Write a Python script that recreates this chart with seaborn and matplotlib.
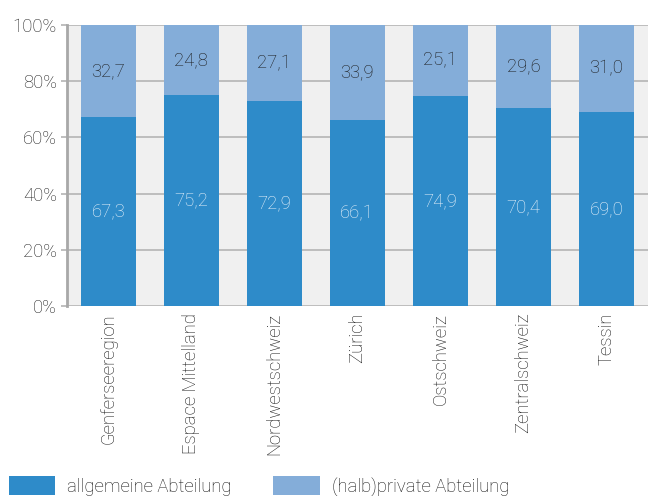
import matplotlib
matplotlib.use("Agg")
import matplotlib.pyplot as plt
import seaborn as sns
import pandas as pd
from matplotlib.patches import Patch

regions = ["Genferseeregion", "Espace Mittelland", "Nordwestschweiz", "Zürich",
           "Ostschweiz", "Zentralschweiz", "Tessin"]
allgemein = [67.3, 75.2, 72.9, 66.1, 74.9, 70.4, 69.0]
privat = [32.7, 24.8, 27.1, 33.9, 25.1, 29.6, 31.0]
series_names = ["allgemeine Abteilung", "(halb)private Abteilung"]
yticks = [0, 20, 40, 60, 80, 100]

dark = "#2e8bc9"
light = "#84add9"
FS = 13.3

sns.set_theme(style="white")
plt.rcParams["font.family"] = ["Roboto", "DejaVu Sans"]
plt.rcParams["font.weight"] = "light"

df = pd.DataFrame({"region": regions, "allg": allgemein, "priv": privat})
df["total"] = df["allg"] + df["priv"]

fig = plt.figure(figsize=(6.48, 4.96), dpi=100)
ax = fig.add_axes([0.103, 0.383, 0.897, 0.5665])
ax.set_facecolor("#f0f0f0")

sns.barplot(data=df, x="region", y="total", color=light, width=0.66,
            saturation=1, ax=ax, zorder=3, linewidth=0, edgecolor="none")
sns.barplot(data=df, x="region", y="allg", color=dark, width=0.66,
            saturation=1, ax=ax, zorder=3, linewidth=0, edgecolor="none")

for i, (a, p) in enumerate(zip(allgemein, privat)):
    ax.text(i, a / 2, f"{a:.1f}".replace(".", ","), ha="center", va="center",
            color="#eef5fc", fontsize=FS, fontweight="light", zorder=5)
    ax.text(i, a + p / 2, f"{p:.1f}".replace(".", ","), ha="center", va="center",
            color="#1a1a1a", fontsize=FS, fontweight="light", zorder=5)

ax.set_ylim(0, 100)
ax.set_xlim(-0.5, len(regions) - 0.5)
ax.set_yticks(yticks)
ax.set_yticklabels([f"{t}%" for t in yticks])
ax.yaxis.grid(True, color="#b4b4b4", linewidth=1.2, zorder=0)
ax.set_axisbelow(True)
ax.set_xlabel("")
ax.set_ylabel("")
ax.tick_params(axis="y", length=4, width=1.2, color="#b4b4b4", labelsize=FS,
               labelcolor="#222222", pad=3, left=True)
ax.tick_params(axis="x", length=0, labelsize=FS, labelcolor="#111111", pad=5)
plt.setp(ax.get_xticklabels(), rotation=90, fontweight="light")
plt.setp(ax.get_yticklabels(), fontweight="light")

for s in ["top", "right", "bottom"]:
    ax.spines[s].set_visible(False)
ax.spines["left"].set_color("#a8a8a8")
ax.spines["left"].set_linewidth(2)

handles = [Patch(facecolor=dark, edgecolor="none"), Patch(facecolor=light, edgecolor="none")]
leg = fig.legend(handles, series_names, loc="lower left", bbox_to_anchor=(0.014, 0.0),
                 ncol=2, frameon=False, fontsize=FS, handlelength=2.5, handleheight=1.15,
                 handletextpad=0.65, columnspacing=2.25, borderaxespad=0.0, borderpad=0.0)
for t in leg.get_texts():
    t.set_color("#111111")
    t.set_fontweight("light")

fig.savefig("out.png", dpi=100)
